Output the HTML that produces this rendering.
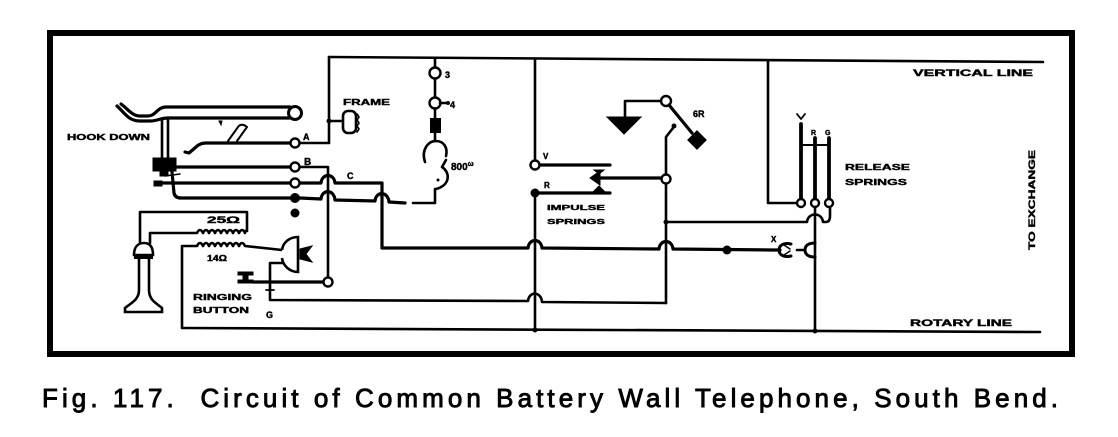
<!DOCTYPE html>
<html>
<head>
<meta charset="utf-8">
<style>
html,body{margin:0;padding:0;background:#fff;}
svg{display:block;}
.w{fill:none;stroke:#000;stroke-width:2.6;stroke-linecap:round;stroke-linejoin:round;}
.t{fill:none;stroke:#000;stroke-width:3.2;stroke-linecap:round;stroke-linejoin:round;}
.c{fill:#fff;stroke:#000;stroke-width:2.4;}
.f{fill:#000;stroke:#000;stroke-width:1;}
.lb{font-family:"Liberation Sans",sans-serif;font-weight:bold;fill:#000;stroke:#000;stroke-width:0.4;}
</style>
</head>
<body>
<svg width="1118" height="437" viewBox="0 0 1118 437" xmlns="http://www.w3.org/2000/svg">
<!-- frame -->
<rect x="50" y="33" width="1022" height="321" fill="none" stroke="#000" stroke-width="6"/>

<!-- top (vertical) line -->
<path class="w" d="M329,57 L1043,62"/>
<!-- rotary line -->
<path class="w" d="M183,328 L1040,332"/>

<!-- A vertical & frame -->
<path class="w" d="M329,57 L329,143 L300,143"/>
<circle class="f" cx="329" cy="121" r="2"/>
<path class="w" d="M329,121 L343,121"/>
<rect x="343" y="111" width="13" height="22" rx="5" fill="#fff" stroke="#000" stroke-width="2.6"/>
<path class="w" d="M357,114 l2,3 l-2,3 l2,3 l-2,3 l2,3 l-2,3" style="stroke-width:1.6"/>

<!-- hook -->
<path class="t" d="M117,106 C124,112 128,121 140,121 L150,121 C158,121 160,118 168,118 L290,118"/>
<path class="t" d="M121,104 C128,109 132,116 140,116 L148,116 C156,116 157,107 166,107 L290,107"/>
<circle class="c" cx="295" cy="113" r="6.5" style="stroke-width:3"/>
<path class="w" d="M162,119 L162,158 M168,119 L168,158"/>
<!-- spring block -->
<path class="f" d="M153,158 L176,158 L176,171 L168,171 L168,176 L160,176 L160,171 L153,171 Z"/>
<path class="f" d="M154,181 L162,181 L162,186 L154,186 Z"/>
<path class="w" d="M165,176 L180,174" style="stroke-width:1.5"/>

<!-- F spring -->
<path class="t" d="M290,143 L206,143 Q200,143 196,147 L189,153 L185,152"/>
<path class="w" d="M228,141 L238,127 Q240,124 244,125 L247,127 L237,141" style="stroke-width:2"/>
<path class="f" d="M219,121 l3,0 l-1,4 z"/>
<circle class="c" cx="295" cy="143" r="4.5"/>
<text class="lb" x="303" y="140" font-size="9">A</text>

<!-- B line -->
<path class="t" d="M172,167 L290,167"/>
<circle class="c" cx="295" cy="167" r="4.5"/>
<text class="lb" x="304" y="165" font-size="10">B</text>
<path class="w" d="M300,167 L328,167 L328,277"/>
<circle class="c" cx="328" cy="282" r="4.5"/>

<!-- line 2 (C) -->
<path class="t" d="M156,183 L290,183"/>
<circle class="c" cx="295" cy="183" r="4.5"/>
<path class="t" d="M300,183 L321,183 C322,173 334,173 335,183 L382,183 L382,248 L528,248 C529,238 541,238 542,248 L659,249 C660,239 672,239 673,249 L772,250"/>
<text class="lb" x="347" y="179" font-size="9">C</text>

<!-- line 3 -->
<path class="t" d="M172,172 L174,193 Q175,198 181,198 L290,198"/>
<circle class="f" cx="295" cy="198" r="4.5"/>
<circle class="f" cx="295" cy="213" r="4"/>
<path class="t" d="M300,198 L321,199 C322,189 334,189 335,200 L375,201 C376,191 388,191 389,202 L405,203"/>
<path class="w" d="M413,203 L435,203 L435,189"/>

<!-- bell column -->
<path class="w" d="M435,58 L435,67.5"/>
<circle class="c" cx="435" cy="73" r="5.5"/>
<path class="w" d="M435,78.5 L435,97.5"/>
<circle class="c" cx="435" cy="103" r="5.5"/>
<path class="w" d="M440,103 L448,103"/>
<circle class="f" cx="448" cy="103" r="1.5"/>
<path class="w" d="M435,108.5 L435,118"/>
<rect x="430" y="118" width="11" height="15" fill="#000"/>
<path class="w" d="M435,133 L435,141"/>
<path class="w" d="M425,162 C421,150 428,141 436,141 C444,141 448,148 446,156"/>
<path class="w" d="M446,160 L442,167 C450,172 451,185 436,189" />
<circle class="f" cx="438" cy="180" r="1"/>
<text class="lb" x="445" y="78" font-size="9">3</text>
<text class="lb" x="450" y="108" font-size="9">4</text>
<text class="lb" x="451" y="170" font-size="10">800<tspan font-size="7" dy="-4">ω</tspan></text>

<!-- impulse springs -->
<path class="w" d="M535,59.6 L535,160.5"/>
<circle class="c" cx="535" cy="165" r="4.5"/>
<path class="t" d="M540,165 L610,165"/>
<circle class="f" cx="535" cy="193" r="4"/>
<path class="t" d="M535,193 L610,193"/>
<path class="w" d="M535,193 L535,330"/>
<circle class="f" cx="535" cy="330" r="2"/>
<path class="t" d="M600,178 L661,178"/>
<path class="f" d="M590,178 L600,171 L600,185 Z"/>
<path class="f" d="M594,170 L604,170 L599,174 Z"/>
<path class="f" d="M594,191 L604,191 L599,186 Z"/>
<circle class="c" cx="666" cy="179" r="4.5"/>
<text class="lb" x="543" y="159" font-size="8">V</text>
<text class="lb" x="544" y="188" font-size="8">R</text>
<text class="lb" x="547" y="210" font-size="7.5" textLength="58" lengthAdjust="spacingAndGlyphs">IMPULSE</text>
<text class="lb" x="547" y="224" font-size="7.5" textLength="58" lengthAdjust="spacingAndGlyphs">SPRINGS</text>

<!-- vertical 666 -->
<path class="w" d="M666,174 L666,137 L673,128"/>
<circle class="f" cx="674" cy="126" r="2"/>
<path class="w" d="M666,184 L666,303"/>
<circle class="f" cx="666" cy="222" r="2"/>
<path class="w" d="M666,222 L807,222 C808,212 822,212 823,222 L826,222 Q830,222 830,216 L830,208"/>

<!-- 6R relay -->
<circle class="c" cx="666" cy="101" r="5"/>
<path class="w" d="M661,101 L625,101 L625,117"/>
<path class="f" d="M607,117 L641,117 L624,134 Z"/>
<path class="t" d="M669,105 L692,133"/>
<rect x="690" y="133" width="14" height="14" fill="#000" transform="rotate(45 697 140)"/>
<text class="lb" x="693" y="117" font-size="9">6R</text>

<!-- release springs -->
<path class="w" d="M768,61 L768,203 L797,203"/>
<path class="t" d="M801,124 L801,199" style="stroke-width:3.8"/>
<path class="t" d="M815,138 L815,199" style="stroke-width:3.8"/>
<path class="t" d="M829,138 L829,199" style="stroke-width:3.8"/>
<path class="w" d="M801,145 L829,145" style="stroke-width:2"/>
<circle class="c" cx="801" cy="203" r="4"/>
<circle class="c" cx="815" cy="203" r="4"/>
<circle class="c" cx="829" cy="203" r="4"/>
<path class="w" d="M815,207 L815,331"/>
<circle class="f" cx="815" cy="331" r="2"/>
<path class="w" d="M797,114 L801,119 L805,114" style="stroke-width:1.8"/>
<text class="lb" x="811" y="135" font-size="7">R</text>
<text class="lb" x="825" y="135" font-size="7">G</text>
<text class="lb" x="845" y="170" font-size="8.5" textLength="65" lengthAdjust="spacingAndGlyphs">RELEASE</text>
<text class="lb" x="845" y="185" font-size="8.5" textLength="62" lengthAdjust="spacingAndGlyphs">SPRINGS</text>

<!-- X plug -->
<circle class="f" cx="727" cy="250" r="4"/>
<path class="t" d="M772,250 L780,250"/>
<path class="w" d="M791,244 C783,242 779,246 779,250 C779,254 783,258 791,256" style="stroke-width:3"/>
<path class="w" d="M784,245 L790,249 M784,255 L790,251" style="stroke-width:1.5"/>
<path class="w" d="M797,250 L803,250"/>
<path class="w" d="M815,243 C808,243 805,246 805,250 C805,254 808,257 815,257" style="stroke-width:3"/>
<text class="lb" x="771" y="242" font-size="8">X</text>

<!-- telephone set / induction coil -->
<path class="w" d="M140,243 L140,212 L247,212 L247,231 L245,231"/>
<path class="w" d="M150,243 L150,233 L197,233 q3,-6 6,0 q3,-6 6,0 q3,-6 6,0 q3,-6 6,0 q3,-6 6,0 q3,-6 6,0 q3,-6 6,0 q3,-6 6,0" />
<path class="w" d="M182,328 L182,246 L197,246 q3,-6 6,0 q3,-6 6,0 q3,-6 6,0 q3,-6 6,0 q3,-6 6,0 q3,-6 6,0 q3,-6 6,0 q3,-6 6,0 L282,250"/>
<text class="lb" x="207" y="223" font-size="9" textLength="33" lengthAdjust="spacingAndGlyphs">25Ω</text>
<text class="lb" x="207" y="261" font-size="8" textLength="20" lengthAdjust="spacingAndGlyphs">14Ω</text>
<!-- stand -->
<path d="M134,255 C134,247 138,243 144,243 C150,243 153,247 153,255 Z" fill="#fff" stroke="#000" stroke-width="2.6"/>
<rect x="134" y="255" width="19" height="4" fill="#000"/>
<path d="M139,259 L139,290 C139,300 131,303 125,308 L125,312 L162,312 L162,308 C156,303 149,300 149,290 L149,259" fill="#fff" stroke="#000" stroke-width="2.6"/>
<!-- receiver -->
<path d="M282,250 C283,242 290,237 298,237 L298,272 C290,272 283,266 282,258" fill="#fff" stroke="#000" stroke-width="2.6"/>
<path class="f" d="M300,249 L312,246 L306,254 L312,262 L300,259 Z"/>
<path class="w" d="M282,263 L270,263 L270,300 L528,301 C529,291 541,291 542,302 L666,303"/>
<!-- ringing button -->
<path class="f" d="M238,272 h15 v3 h-5 v5 h5 v3 h-15 v-3 h5 v-5 h-5 z"/>
<path class="t" d="M253,282 L323,282"/>
<path class="w" d="M266,290 L274,290" style="stroke-width:1.8"/>
<text class="lb" x="193" y="300" font-size="8" textLength="59" lengthAdjust="spacingAndGlyphs">RINGING</text>
<text class="lb" x="193" y="313" font-size="8" textLength="56" lengthAdjust="spacingAndGlyphs">BUTTON</text>
<text class="lb" x="266" y="318" font-size="9">G</text>

<!-- labels -->
<text class="lb" x="67" y="140" font-size="8" textLength="83" lengthAdjust="spacingAndGlyphs">HOOK DOWN</text>
<text class="lb" x="343" y="105" font-size="8.5" textLength="47" lengthAdjust="spacingAndGlyphs">FRAME</text>
<text class="lb" x="913" y="76" font-size="9" textLength="120" lengthAdjust="spacingAndGlyphs">VERTICAL LINE</text>
<text class="lb" x="910" y="326" font-size="9" textLength="102" lengthAdjust="spacingAndGlyphs">ROTARY LINE</text>
<text class="lb" x="0" y="0" font-size="9" textLength="100" lengthAdjust="spacingAndGlyphs" transform="translate(1035,250) rotate(-90)">TO EXCHANGE</text>

<!-- caption -->
<text x="42" y="407" font-family="Liberation Sans, sans-serif" font-size="26" fill="#000" stroke="#000" stroke-width="0.9" textLength="1016" lengthAdjust="spacing">Fig. 117.&#160; Circuit of Common Battery Wall Telephone, South Bend.</text>
</svg>
</body>
</html>
